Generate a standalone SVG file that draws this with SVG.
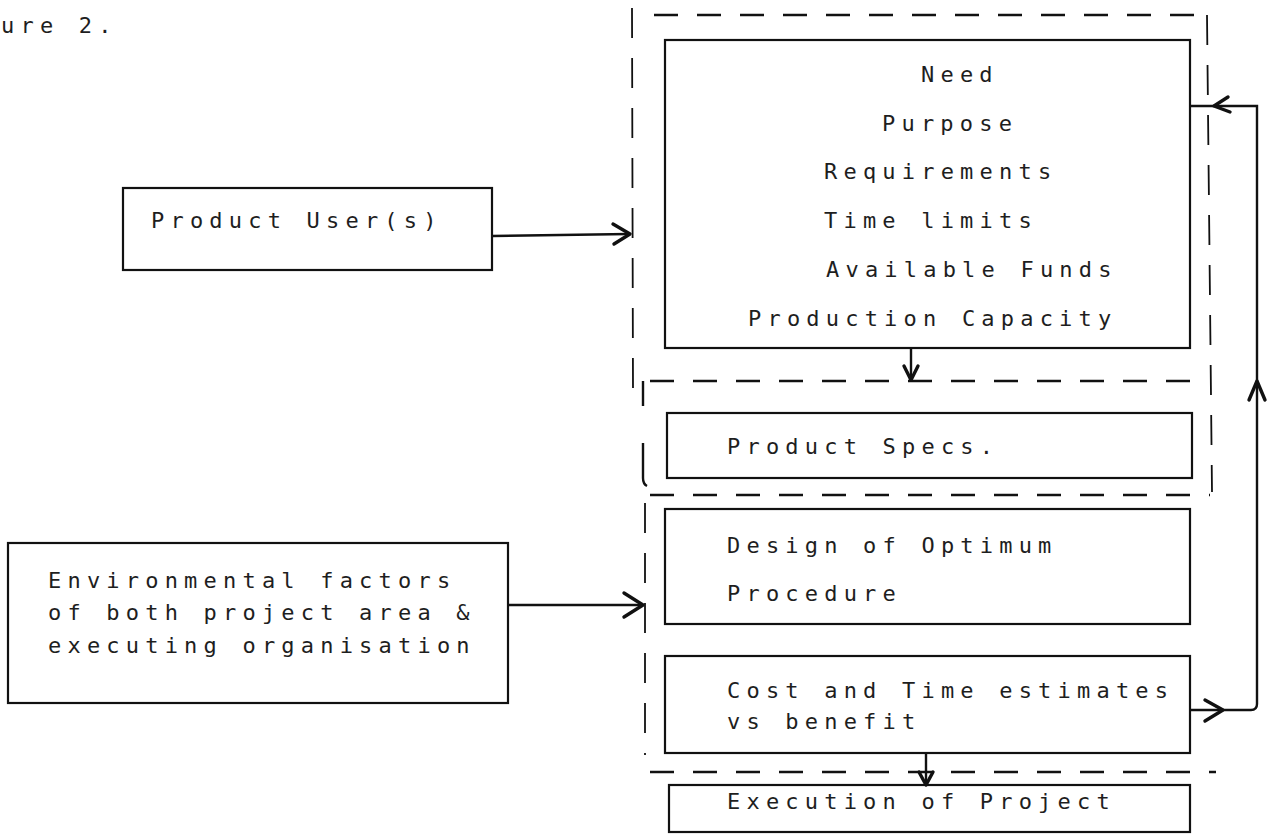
<svg xmlns="http://www.w3.org/2000/svg" width="1278" height="835" viewBox="0 0 1278 835">
  <style>
    .t { font-family: "DejaVu Sans Mono", "Liberation Mono", monospace; font-size: 22px; letter-spacing: 6.2px; fill: #1e1e1e; }
    .box { fill: none; stroke: #111; stroke-width: 2.2; }
    .dash { fill: none; stroke: #111; stroke-width: 2.6; stroke-dasharray: 24 19; }
    .vdash { fill: none; stroke: #111; stroke-width: 1.8; stroke-dasharray: 30 20; }
    .line { fill: none; stroke: #111; stroke-width: 2.4; }
    .head { fill: none; stroke: #111; stroke-width: 3.4; stroke-linecap: round; stroke-linejoin: round; }
  </style>
  <rect width="1278" height="835" fill="#fff"/>

  <!-- caption -->
  <text class="t" x="1" y="33">ure 2.</text>

  <!-- dashed groupings -->
  <g id="groups">
    <line class="dash" x1="654" y1="15" x2="1203" y2="15"/>
    <line class="vdash" x1="632" y1="8" x2="633" y2="392"/>
    <line class="vdash" x1="1207" y1="15" x2="1212" y2="492"/>
    <line class="dash" x1="650" y1="381" x2="1197" y2="381"/>
    <line class="line" x1="643" y1="381" x2="643" y2="406" stroke-width="1.8"/>
    <path class="line" d="M643,443 V478 Q643,484 647,486" stroke-width="1.8"/>
    <line class="dash" x1="650" y1="495" x2="1210" y2="495"/>
    <line class="vdash" x1="645" y1="503" x2="645" y2="755"/>
    <line class="dash" x1="650" y1="772" x2="1216" y2="772"/>
  </g>

  <g id="product-users">
    <rect class="box" x="123" y="188" width="369" height="82"/>
    <text class="t" x="151" y="228">Product User(s)</text>
  </g>

  <g id="environment">
    <rect class="box" x="8" y="543" width="500" height="160"/>
    <text class="t" x="48" y="588">Environmental factors</text>
    <text class="t" x="48" y="620">of both project area &amp;</text>
    <text class="t" x="48" y="653">executing organisation</text>
  </g>

  <g id="needs">
    <rect class="box" x="665" y="40" width="525" height="308"/>
    <text class="t" x="921" y="82">Need</text>
    <text class="t" x="882" y="131">Purpose</text>
    <text class="t" x="824" y="179">Requirements</text>
    <text class="t" x="824" y="228">Time limits</text>
    <text class="t" x="826" y="277">Available Funds</text>
    <text class="t" x="748" y="326">Production Capacity</text>
  </g>

  <g id="product-specs">
    <rect class="box" x="667" y="413" width="525" height="65"/>
    <text class="t" x="727" y="454">Product Specs.</text>
  </g>

  <g id="design">
    <rect class="box" x="665" y="509" width="525" height="115"/>
    <text class="t" x="727" y="553">Design of Optimum</text>
    <text class="t" x="727" y="601">Procedure</text>
  </g>

  <g id="cost">
    <rect class="box" x="665" y="656" width="525" height="97"/>
    <text class="t" x="727" y="698">Cost and Time estimates</text>
    <text class="t" x="727" y="729">vs benefit</text>
  </g>

  <g id="execution">
    <rect class="box" x="669" y="785" width="521" height="47"/>
    <text class="t" x="727" y="809">Execution of Project</text>
  </g>

  <g id="connectors">
    <!-- users to needs -->
    <line class="line" x1="492" y1="236" x2="629" y2="234"/>
    <path class="head" d="M613,224 L630,234 L614,244"/>
    <!-- environment to design -->
    <line class="line" x1="508" y1="605" x2="642" y2="605"/>
    <path class="head" d="M624,593 L643,605 L624,617"/>
    <!-- needs down to specs -->
    <line class="line" x1="911" y1="348" x2="911" y2="379"/>
    <path class="head" d="M904,366 L911,380 L918,366"/>
    <!-- cost down to execution -->
    <line class="line" x1="926" y1="753" x2="926" y2="784" stroke-width="1.8"/>
    <path class="head" d="M919,772 L926,785 L933,772" stroke-width="2.4"/>
    <!-- feedback loop -->
    <path class="line" d="M1190,710 H1251 Q1257,710 1257,704 V106 H1190"/>
    <path class="head" d="M1205,700 L1223,710 L1205,721"/>
    <path class="head" d="M1249,400 L1257,381 L1265,400"/>
    <path class="head" d="M1228,97 L1214,106 L1230,112"/>
  </g>
</svg>
